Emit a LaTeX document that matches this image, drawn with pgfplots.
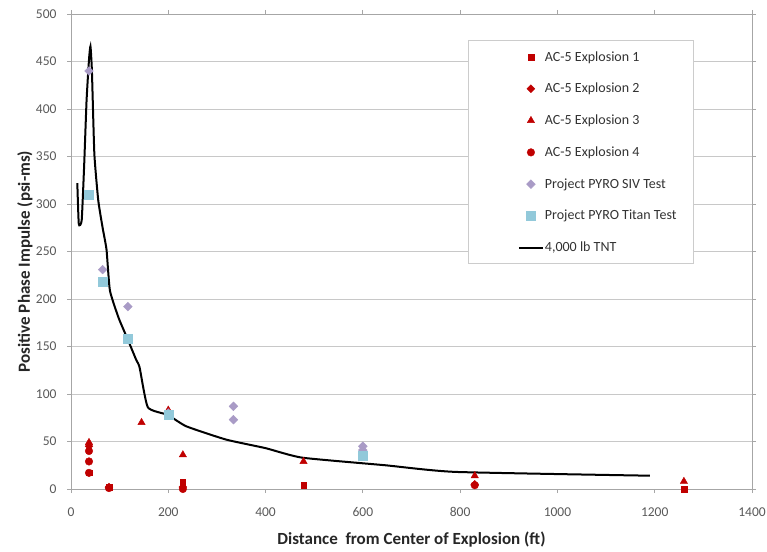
\documentclass[border=0pt]{standalone}
\usepackage{pgfplots}
\pgfplotsset{compat=1.18}
\usepackage{fontspec}
\setmainfont{Carlito}
\usetikzlibrary{shadows}
\definecolor{acred}{HTML}{C00000}
\definecolor{siv}{HTML}{A99BC6}
\definecolor{titan}{HTML}{92C9DA}
\definecolor{gridc}{HTML}{C8C8C8}
\definecolor{axc}{HTML}{A6A6A6}
\definecolor{tickc}{HTML}{595959}
\pgfplotsset{
  markleg/.style={legend image code/.code={\draw[##1] plot coordinates {(12pt,0pt)};}},
  lineleg/.style={legend image code/.code={\draw[##1] (0pt,0pt) -- (24pt,0pt);}},
}
\begin{document}
\begin{tikzpicture}
\path[use as bounding box] (-71pt,-62pt) rectangle (696pt,489pt);
\begin{axis}[
  at={(0,0)}, anchor=origin,
  scale only axis, width=681pt, height=475pt,
  xmin=0, xmax=1400, ymin=0, ymax=500,
  xtick={0,200,...,1400}, ytick={0,50,...,500},
  /pgf/number format/assume math mode=true,
  /pgf/number format/set thousands separator={},
  ymajorgrids, grid style={gridc, line width=0.8pt},
  axis line style={axc, line width=0.8pt},
  tick style={axc, line width=0.8pt},
  tick align=outside, major tick length=4pt,
  ticklabel style={font=\fontsize{13.5}{15}\selectfont, text=tickc},
  xticklabel style={yshift=-11pt},
  yticklabel style={xshift=-7pt},
  xlabel={\textbf{Distance\ \ from Center of Explosion (ft)}},
  ylabel={\textbf{Positive Phase Impulse (psi-ms)}},
  label style={font=\fontsize{17}{20}\selectfont, text=black!85},
  xlabel style={at={(axis description cs:0.5,0)}, anchor=center, yshift=-51pt},
  ylabel style={at={(axis description cs:0,0.5)}, anchor=center, rotate=0, yshift=46pt, xshift=-10pt},
  legend cell align=left,
  legend style={at={(0.656,0.924)}, anchor=north west, draw=none, fill=none,
    font=\fontsize{14}{16}\selectfont, text=black!80, row sep=18.6pt,
    inner sep=0pt, nodes={inner xsep=1pt, inner ysep=1pt}},
]
\addplot[only marks, mark=square*, mark size=2.8pt, color=acred, markleg] coordinates {
(37,17) (78,2) (230,7) (478,4) (1260,0)};
\addlegendentry{AC-5 Explosion 1}
\addplot[only marks, mark=square*, mark size=2.8pt, mark options={rotate=45}, color=acred, markleg] coordinates {
(37,45) (78,2) (230,2) (830,5)};
\addlegendentry{AC-5 Explosion 2}
\addplot[only marks, mark=triangle*, mark size=4.2pt, color=acred, markleg] coordinates {
(37,49) (145,70) (200,83) (230,36) (478,29) (830,14) (1260,8)};
\addlegendentry{AC-5 Explosion 3}
\addplot[only marks, mark=*, mark size=3.8pt, color=acred, markleg] coordinates {
(37,40) (37,29) (37,17) (78,1) (230,0) (830,4)};
\addlegendentry{AC-5 Explosion 4}
\addplot[only marks, mark=square*, mark size=3.1pt, mark options={rotate=45}, color=siv, markleg] coordinates {
(37,440) (65,231) (117,192) (200,80) (334,87) (334,73) (600,45) (600,41)};
\addlegendentry{Project PYRO SIV Test}
\addplot[only marks, mark=square*, mark size=4.5pt, color=titan, markleg] coordinates {
(37,310) (65,218) (117,158) (200,78) (600,35)};
\addlegendentry{Project PYRO Titan Test}
\addplot[black, line width=2pt, smooth, tension=0.3, mark=none, lineleg] coordinates {
(13,322) (16,279) (22,283) (27,340) (32,409) (37,452) (40,466) (43,440) (48,353) (56,304)
(65,275) (73,252) (80,209) (98,180) (117,157) (134,136) (141,128) (158,86) (199,78)
(237,66) (319,52) (400,43) (475,33) (646,25) (790,18) (1190,14)};
\addlegendentry{4,000 lb TNT}
\fill[white, draw=gray!40, drop shadow={shadow xshift=1.5pt, shadow yshift=-1.5pt, opacity=0.35}]
  (rel axis cs:0.583,0.945) rectangle (rel axis cs:0.913,0.476);
\end{axis}
\end{tikzpicture}
\end{document}
